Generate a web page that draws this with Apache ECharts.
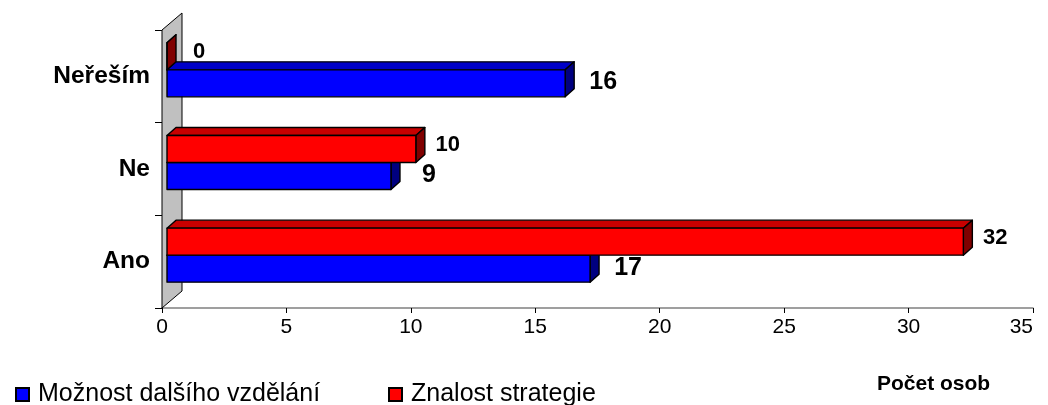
<!DOCTYPE html>
<html>
<head>
<meta charset="utf-8">
<script src="https://cdn.jsdelivr.net/npm/echarts@6/dist/echarts.min.js"></script>
<style>
  html, body { margin: 0; padding: 0; background: #ffffff; }
  #chart { width: 1048px; height: 405px; }
</style>
</head>
<body>
<div id="chart"></div>
<script>
// Categories (bottom to top) and the two answer series
const categories = ['Ano', 'Ne', 'Neřeším'];
const moznostVzdelani = [17, 9, 16];
const znalostStrategie = [32, 10, 0];
const seriesNames = ['Možnost dalšího vzdělání', 'Znalost strategie'];
const xAxisTitle = 'Počet osob';
const xMin = 0, xMax = 35, xStep = 5;

const FONT = '"Liberation Sans", Arial, sans-serif';

// Pseudo-3D look: depth offset of the top/side faces, bar thickness
const DEPTH_X = 9, DEPTH_Y = -8, SHIFT_X = 5, BAR_H = 27, PAIR_SHIFT = -6.5;

const blueFaces = { front: '#0000ff', top: '#0000c8', side: '#000080' };
const redFaces  = { front: '#ff0000', top: '#c80000', side: '#800000' };

function barRenderer(slot, faces, labelSize, labelDx, labelDy) {
  return function (params, api) {
    const val = api.value(0);
    const cat = api.value(1);
    const p0 = api.coord([0, cat]);
    const p1 = api.coord([val, cat]);
    const x0 = p0[0] + SHIFT_X;
    const x1 = p1[0] + SHIFT_X;
    const mid = p0[1] + PAIR_SHIFT;
    const y0 = slot === 0 ? mid : mid - BAR_H;
    const y1 = y0 + BAR_H;
    const dx = DEPTH_X, dy = DEPTH_Y;
    const edge = { stroke: '#000', lineWidth: 1.4, lineJoin: 'round' };
    return {
      type: 'group',
      children: [
        { type: 'polygon', shape: { points: [[x0, y0], [x0 + dx, y0 + dy], [x1 + dx, y0 + dy], [x1, y0]] },
          style: Object.assign({ fill: faces.top }, edge) },
        { type: 'polygon', shape: { points: [[x1, y0], [x1 + dx, y0 + dy], [x1 + dx, y1 + dy], [x1, y1]] },
          style: Object.assign({ fill: faces.side }, edge) },
        { type: 'rect', shape: { x: x0, y: y0, width: x1 - x0, height: BAR_H },
          style: Object.assign({ fill: faces.front }, edge) },
        { type: 'text', z2: 10,
          style: { text: String(val), x: x1 + labelDx, y: (y0 + y1) / 2 + labelDy,
                   font: 'bold ' + labelSize + 'px ' + FONT, fill: '#000',
                   align: 'center', verticalAlign: 'middle' } }
      ]
    };
  };
}

// Grey back wall behind the category axis
function wallRenderer(params) {
  const cs = params.coordSys;
  const x = cs.x, y = cs.y, h = cs.height, wx = 20, wy = -17;
  return {
    type: 'polygon',
    shape: { points: [[x, y], [x + wx, y + wy], [x + wx, y + h + wy], [x, y + h]] },
    style: { fill: '#c0c0c0', stroke: '#000', lineWidth: 1 }
  };
}

const chart = echarts.init(document.getElementById('chart'), null, { renderer: 'canvas' });

const legendText = { fontFamily: FONT, fontSize: 25, color: '#000', padding: [0, 0, 0, 4] };

chart.setOption({
  backgroundColor: '#ffffff',
  animation: false,
  grid: { left: 162, right: 15, top: 30, bottom: 97, containLabel: false },
  title: {
    text: xAxisTitle, left: 872, top: 369,
    textStyle: { fontFamily: FONT, fontWeight: 'bold', fontSize: 21, color: '#000' }
  },
  legend: [
    { data: [seriesNames[0]], left: 10, top: 377, itemWidth: 13, itemHeight: 13, icon: 'rect',
      textStyle: legendText },
    { data: [seriesNames[1]], left: 383, top: 377, itemWidth: 13, itemHeight: 13, icon: 'rect',
      textStyle: legendText }
  ],
  xAxis: {
    type: 'value', min: xMin, max: xMax, interval: xStep,
    splitLine: { show: false },
    axisLine: { show: true, lineStyle: { color: '#808080', width: 1.5 } },
    axisTick: { show: true, length: 5, lineStyle: { color: '#000' } },
    axisLabel: { fontFamily: FONT, fontSize: 21, color: '#000', margin: 9, alignMaxLabel: 'right' }
  },
  yAxis: {
    type: 'category', data: categories,
    axisLine: { show: true, lineStyle: { color: '#000', width: 1 } },
    axisTick: { show: true, length: 7, lineStyle: { color: '#000' } },
    axisLabel: { fontFamily: FONT, fontWeight: 'bold', fontSize: 24.5, color: '#000', margin: 12 }
  },
  series: [
    { type: 'custom', name: 'wall', silent: true, z: 1, renderItem: wallRenderer, data: [[0, 0]],
      encode: { x: 0, y: 1 } },
    { type: 'custom', name: seriesNames[0], z: 3,
      itemStyle: { color: '#0000ff', borderColor: '#000', borderWidth: 1 },
      renderItem: barRenderer(0, blueFaces, 25, 38, -1),
      encode: { x: 0, y: 1 },
      data: moznostVzdelani.map((v, i) => [v, i]) },
    { type: 'custom', name: seriesNames[1], z: 4,
      itemStyle: { color: '#ff0000', borderColor: '#000', borderWidth: 1 },
      renderItem: barRenderer(1, redFaces, 22, 32, -4),
      encode: { x: 0, y: 1 },
      data: znalostStrategie.map((v, i) => [v, i]) }
  ]
});
</script>
</body>
</html>
